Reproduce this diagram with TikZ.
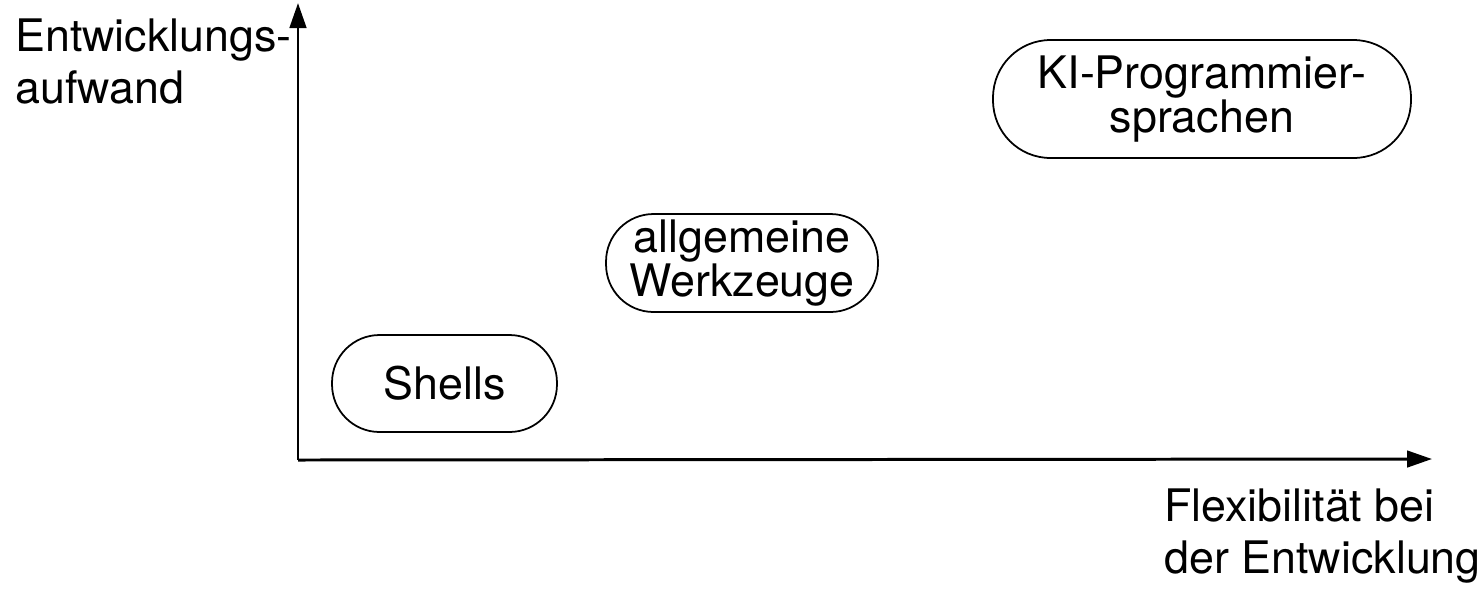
\documentclass[tikz,border=0pt]{standalone}
\usepackage{fontspec}
\setmainfont{TeX Gyre Heros}
\usetikzlibrary{arrows.meta}
\tikzset{
  tool/.style={draw, line width=1pt, rounded corners=0.95cm, align=center,
    inner sep=0pt, font=\fontsize{25.5}{23.2}\selectfont},
  axis/.style={line width=1.7pt, -{Triangle[length=0.5cm,width=0.33cm]}},
  axislabel/.style={anchor=base west, align=left, inner sep=0pt,
    font=\fontsize{25.5}{29.5}\selectfont}
}
\begin{document}
\begin{tikzpicture}
    \def\x{0.02}
    \def\y{-0.02}
    \useasboundingbox (0,0) rectangle (1479*\x, 588*\y);
    % axes
    \coordinate (O) at (298*\x, 460*\y);
    \coordinate (Ytop) at (298*\x, 3*\y);
    \coordinate (Xend) at (1432*\x, 459*\y);
    \draw [axis] (O) -- (Ytop);
    \draw [axis] (O) -- (Xend);
    \node [axislabel] (ylab) at (15*\x, 103*\y) {Entwicklungs-\\aufwand};
    \node [axislabel] (xlab) at (1164*\x, 573*\y) {Flexibilität bei\\der Entwicklung};
    % tools
    \node [tool, minimum width=4.5cm, minimum height=1.94cm] (Shells) at (444.5*\x, 383.5*\y) {Shells};
    \node [tool, minimum width=5.44cm, minimum height=1.96cm] (Werkzeuge) at (742*\x, 263*\y) {allgemeine\\Werkzeuge};
    \node [tool, minimum width=8.36cm, minimum height=2.36cm, rounded corners=1.15cm] (KI) at (1202*\x, 99*\y) {KI-Programmier-\\sprachen};
\end{tikzpicture}
\end{document}
